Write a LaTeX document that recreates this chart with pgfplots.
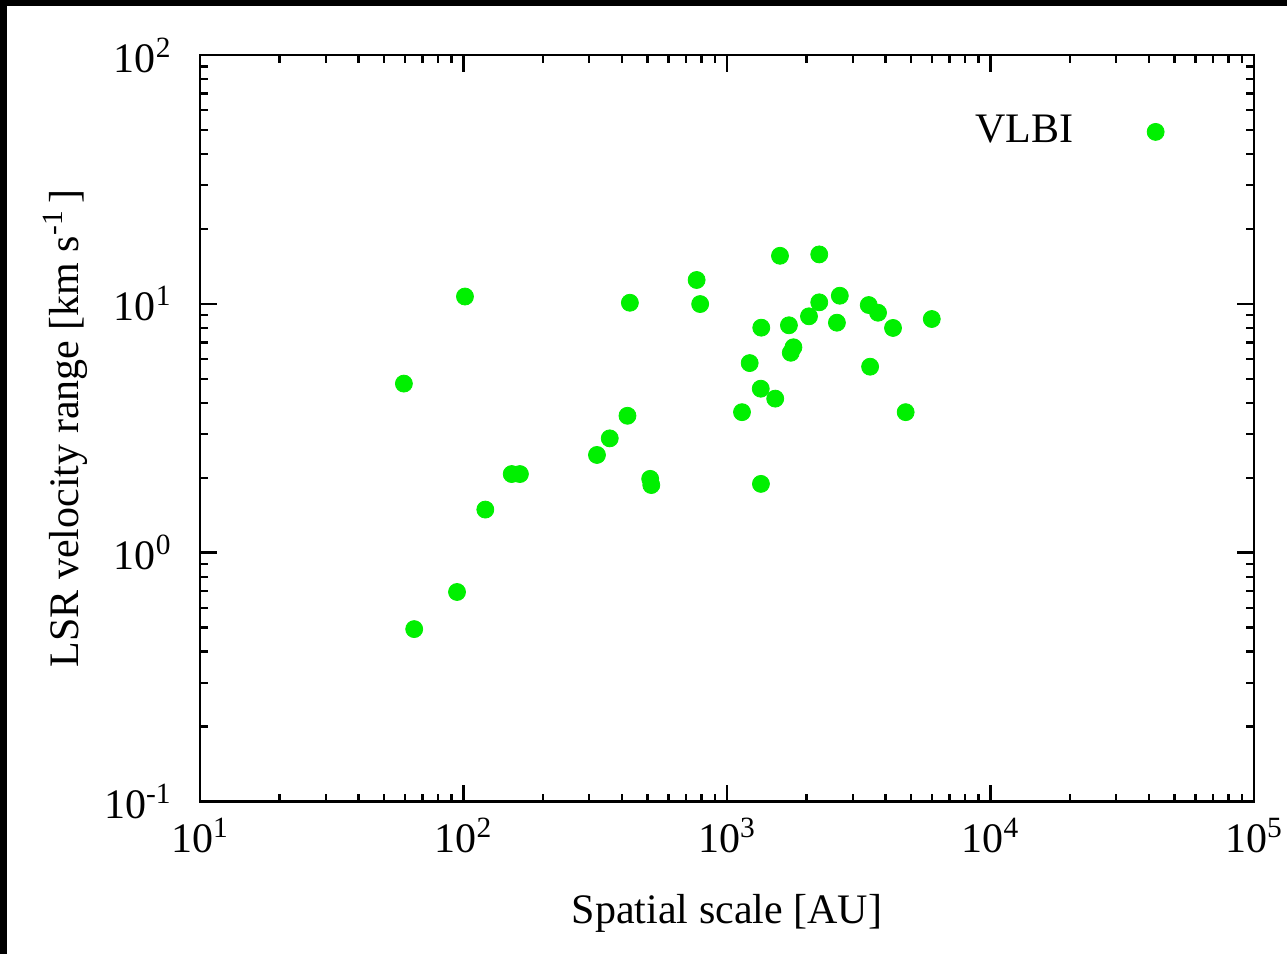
\documentclass[border=0pt]{standalone}
\usepackage{pgfplots}
\pgfplotsset{compat=1.18}
\usepackage{fontspec}
\setmainfont{Liberation Serif}
\definecolor{vlbigreen}{RGB}{0,240,0}
\pgfplotstableread{
x y
59.4 4.78
65.0 0.493
94.5 0.695
101.3 10.7
121 1.49
152.4 2.07
163.7 2.07
321 2.47
359 2.88
419 3.55
428 10.1
511 1.98
516 1.87
767 12.47
791 9.98
1589 15.6
2239 15.8
1349 8.02
1718 8.20
2047 8.91
2239 10.14
2680 10.78
2613 8.40
3451 9.89
3743 9.21
4266 8.0
5986 8.69
1787 6.69
1746 6.36
1219 5.78
3492 5.59
1343 4.56
1524 4.16
1140 3.67
4764 3.67
1345 1.89
}\vlbi
\begin{document}
\fontsize{21}{25}\selectfont
\begin{tikzpicture}
\path[use as bounding box] (0pt,0pt) rectangle (643.5pt,477pt);
\fill[black] (0pt,0pt) rectangle (643.5pt,477pt);
\fill[white] (3.5pt,0pt) rectangle (643.5pt,474pt);
\begin{axis}[
  at={(100pt,76.25pt)}, anchor=south west,
  scale only axis, width=527pt, height=373.25pt,
  xmode=log, ymode=log,
  xmin=10, xmax=100000, ymin=0.1, ymax=100,
  axis line style={line width=1.4pt},
  every tick/.style={black, line width=1.2pt},
  tick align=inside,
  major tick length=8.5pt, minor tick length=4pt,
  xtick={10,100,1000,10000,100000},
  xticklabels={{10\textsuperscript{1}},{10\textsuperscript{2}},{10\textsuperscript{3}},{10\textsuperscript{4}},{10\textsuperscript{5}}},
  ytick={0.1,1,10,100},
  yticklabels={{10\textsuperscript{-1}},{10\textsuperscript{0}},{10\textsuperscript{1}},{10\textsuperscript{2}}},
  ticklabel style={font=\fontsize{21}{25}\selectfont},
  xticklabel style={yshift=-1pt},
  yticklabel style={xshift=-7pt},
  xlabel={Spatial scale [AU]},
  ylabel={LSR velocity range [km s\textsuperscript{-1}\,]},
  label style={font=\fontsize{21}{25}\selectfont},
  xlabel style={at={(axis description cs:0.5,-0.1628)}, anchor=base},
  ylabel style={at={(axis description cs:-0.1157,0.5)}, rotate=0, anchor=base},
  legend plot pos=right,
  legend cell align=right,
  legend image code/.code={\path[draw=none] (0pt,0pt) (43.25pt,0pt); \draw[#1] plot coordinates {(39pt,0pt)};},
  legend style={draw=none, fill=none, font=\fontsize{21}{25}\selectfont,
    at={(axis description cs:0.9208,0.897)}, anchor=east},
]
\addplot[only marks, mark=*, mark size=4.25pt, color=vlbigreen, mark options={draw=vlbigreen, fill=vlbigreen}] table[x=x,y=y] {\vlbi};
\addlegendentry{VLBI}
\end{axis}
\end{tikzpicture}
\end{document}
